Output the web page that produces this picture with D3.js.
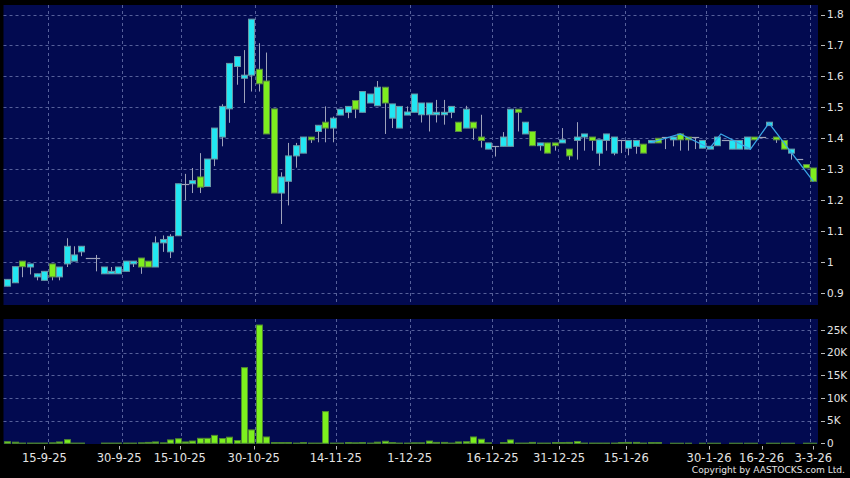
<!DOCTYPE html>
<html>
<head>
<meta charset="utf-8">
<script src="https://cdn.jsdelivr.net/npm/d3@7"></script>
<style>
  body { margin: 0; background: #000; }
  svg { display: block; }
  text { font-family: "DejaVu Sans", Verdana, sans-serif; fill: #e4e4e4; }
</style>
</head>
<body>
<div id="chart"></div>
<script>
// daily candles, one slot per traded day (index 0..109)
const opens  = [0.922,0.933,1.003,0.984,0.952,0.941,0.994,0.952,0.994,1.003,1.033,1.013,1.013,0.962,0.962,0.962,0.970,0.994,1.013,1.003,
                0.984,1.062,1.033,1.085,1.253,1.253,1.275,1.244,1.333,1.404,1.495,1.632,1.594,1.604,1.623,1.585,1.495,1.223,1.261,1.343,
                1.352,1.404,1.422,1.452,1.433,1.475,1.484,1.522,1.484,1.514,1.505,1.565,1.465,1.433,1.475,1.484,1.476,1.476,1.476,1.476,
                1.484,1.452,1.433,1.452,1.404,1.365,1.374,1.374,1.374,1.494,1.414,1.422,1.376,1.385,1.385,1.385,1.365,1.393,1.404,1.404,
                1.352,1.393,1.352,1.395,1.368,1.374,1.381,1.385,1.400,1.404,1.395,1.414,1.404,1.404,1.368,1.365,1.376,1.395,1.365,1.365,
                1.365,1.404,1.404,1.441,1.404,1.393,1.352,1.333,1.315,1.304];
const highs  = [0.944,0.985,1.003,0.994,0.962,0.970,0.994,0.984,1.077,1.051,1.051,1.013,1.023,0.984,0.984,0.984,1.003,1.003,1.013,1.003,
                1.083,1.086,1.090,1.253,1.285,1.304,1.352,1.333,1.433,1.510,1.642,1.664,1.685,1.785,1.707,1.677,1.495,1.290,1.385,1.385,
                1.404,1.404,1.442,1.503,1.470,1.494,1.503,1.522,1.551,1.543,1.585,1.565,1.511,1.503,1.503,1.543,1.514,1.514,1.524,1.524,
                1.503,1.452,1.505,1.452,1.476,1.385,1.374,1.420,1.494,1.494,1.452,1.422,1.385,1.385,1.385,1.433,1.365,1.452,1.414,1.404,
                1.395,1.414,1.404,1.395,1.393,1.393,1.381,1.393,1.400,1.404,1.404,1.414,1.404,1.404,1.393,1.374,1.404,1.395,1.393,1.393,
                1.404,1.404,1.404,1.452,1.404,1.393,1.365,1.333,1.315,1.304];
const lows   = [0.922,0.933,0.951,0.960,0.941,0.941,0.941,0.941,0.984,1.003,1.019,1.013,0.970,0.962,0.962,0.962,0.970,0.984,0.962,0.984,
                0.984,1.033,1.013,1.085,1.200,1.223,1.223,1.244,1.310,1.374,1.450,1.573,1.514,1.551,1.551,1.414,1.223,1.123,1.183,1.305,
                1.352,1.385,1.387,1.387,1.387,1.475,1.465,1.465,1.484,1.514,1.505,1.414,1.433,1.433,1.475,1.484,1.451,1.422,1.451,1.444,
                1.465,1.422,1.433,1.395,1.370,1.365,1.341,1.374,1.374,1.422,1.414,1.376,1.360,1.352,1.360,1.385,1.330,1.331,1.360,1.360,
                1.311,1.360,1.345,1.352,1.345,1.350,1.352,1.385,1.385,1.365,1.374,1.360,1.360,1.365,1.368,1.365,1.376,1.395,1.365,1.365,
                1.365,1.395,1.404,1.441,1.385,1.365,1.331,1.333,1.304,1.261];
const closes = [0.944,0.985,0.985,0.994,0.962,0.970,0.952,0.984,1.051,1.023,1.051,1.013,1.013,0.984,0.970,0.984,1.003,1.003,0.984,0.984,
                1.062,1.073,1.083,1.253,1.253,1.263,1.242,1.333,1.433,1.503,1.642,1.664,1.604,1.785,1.576,1.414,1.223,1.275,1.343,1.376,
                1.404,1.395,1.442,1.433,1.465,1.494,1.503,1.494,1.551,1.543,1.565,1.514,1.511,1.503,1.485,1.543,1.514,1.514,1.484,1.484,
                1.503,1.422,1.494,1.433,1.393,1.385,1.374,1.404,1.494,1.484,1.452,1.376,1.385,1.352,1.376,1.395,1.343,1.404,1.414,1.393,
                1.395,1.414,1.404,1.395,1.393,1.393,1.352,1.393,1.385,1.404,1.404,1.395,1.395,1.404,1.393,1.374,1.404,1.395,1.393,1.393,
                1.404,1.395,1.404,1.452,1.395,1.365,1.365,1.333,1.304,1.261];
// volume in thousands of shares
const volumes = [0.35,0.25,0.05,0.05,0.05,0.05,0.1,0.3,0.8,0.05,0.05,0,0,0.05,0.05,0.05,0.05,0.05,0.1,0.2,
                 0.3,0.1,0.75,1.0,0.3,0.5,1.1,1.1,1.75,1.05,1.35,0.6,16.7,2.95,26.1,1.4,0.15,0.15,0.15,0.05,
                 0.15,0.05,0.05,7.0,0.05,0.05,0.15,0.1,0.15,0.05,0.25,0.45,0.15,0.05,0.05,0.1,0.1,0.5,0.2,0.2,
                 0.05,0.3,0.35,1.4,0.9,0.1,0,0.15,0.75,0.05,0.05,0.2,0.05,0.05,0.15,0.15,0.2,0.4,0.05,0.05,
                 0.05,0.05,0.05,0.15,0.2,0.2,0.05,0.15,0.15,0,0.02,0.02,0.02,0,0.02,0.02,0.02,0,0.02,0.02,
                 0.02,0.02,0,0.02,0.02,0.02,0.02,0,0.02,0.02];
// thin price line over the latest weeks
const lineIdx = [87, 91, 95, 96.5, 100.5, 103, 109];
const lineVal = [1.386, 1.414, 1.368, 1.414, 1.365, 1.449, 1.261];

const gridIdx    = [5.5, 15.5, 23.5, 33.5, 44.5, 54.5, 65.5, 74.5, 83.5, 94.5, 101.5, 108.5];
const labelIdx   = [5, 15.1, 23.3, 33.3, 44.4, 54.4, 65.6, 74.6, 83.7, 94.9, 102, 109];
const dateLabels = ["15-9-25","30-9-25","15-10-25","30-10-25","14-11-25","1-12-25","16-12-25","31-12-25","15-1-26","30-1-26","16-2-26","3-3-26"];
const priceTicks = [0.9, 1.0, 1.1, 1.2, 1.3, 1.4, 1.5, 1.6, 1.7, 1.8];
const volTicks   = [0, 5, 10, 15, 20, 25];

const W = 850, H = 478;
const left = 3.5, right = 818;
const pTop = 5, pBot = 305;
const vTop = 319, vBot = 444;

const upFill = "#22e6f2", upStroke = "#6a98a6";
const dnFill = "#7eee1e", dnStroke = "#5b8a44";
const wickCol = "#9ea2ba";
const gridCol = "#56609a";

const n = opens.length;
const candles = d3.range(n).map(i => ({i, o: opens[i], h: highs[i], l: lows[i], c: closes[i], v: volumes[i]}));

const x = d3.scaleLinear().domain([-0.5, n - 0.5]).range([3.8, 817]);
const y = d3.scaleLinear().domain([0.9, 1.8]).range([293, 14.5]);
const yv = d3.scaleLinear().domain([0, 25]).range([443.3, 330]);
const bw = 6;

const svg = d3.select("#chart").append("svg")
    .attr("width", W).attr("height", H);

svg.append("rect").attr("width", W).attr("height", H).attr("fill", "#000");

// panels
svg.append("rect").attr("x", left).attr("y", pTop).attr("width", right - left).attr("height", pBot - pTop).attr("fill", "#020a50");
svg.append("rect").attr("x", left).attr("y", vTop).attr("width", right - left).attr("height", vBot - vTop).attr("fill", "#020a50");

// grid
const grid = svg.append("g").attr("stroke", gridCol).attr("stroke-dasharray", "3,3").attr("stroke-width", 1);
grid.selectAll(".hp").data(priceTicks).join("line")
    .attr("x1", left).attr("x2", right)
    .attr("y1", d => Math.round(y(d)) + 0.5).attr("y2", d => Math.round(y(d)) + 0.5);
grid.selectAll(".hv").data(volTicks.slice(1)).join("line")
    .attr("x1", left).attr("x2", right)
    .attr("y1", d => Math.round(yv(d)) + 0.5).attr("y2", d => Math.round(yv(d)) + 0.5);
grid.selectAll(".vp").data(gridIdx).join("line")
    .attr("x1", d => Math.round(x(d)) + 0.5).attr("x2", d => Math.round(x(d)) + 0.5)
    .attr("y1", pTop).attr("y2", pBot);
grid.selectAll(".vv").data(gridIdx).join("line")
    .attr("x1", d => Math.round(x(d)) + 0.5).attr("x2", d => Math.round(x(d)) + 0.5)
    .attr("y1", vTop).attr("y2", vBot);

// candles
const cg = svg.append("g");
const cx = d => Math.round(x(d.i)) + 0.5;

cg.selectAll(".wick").data(candles).join("line")
    .attr("x1", cx).attr("x2", cx)
    .attr("y1", d => y(d.h)).attr("y2", d => y(d.l))
    .attr("stroke", wickCol).attr("stroke-width", 1);

const bodies = candles.filter(d => d.o !== d.c);
cg.selectAll(".body").data(bodies).join("rect")
    .attr("x", d => cx(d) - bw / 2)
    .attr("width", bw)
    .attr("y", d => y(Math.max(d.o, d.c)))
    .attr("height", d => Math.max(1, y(Math.min(d.o, d.c)) - y(Math.max(d.o, d.c))))
    .attr("fill", d => d.c > d.o ? upFill : dnFill)
    .attr("stroke", d => d.c > d.o ? upStroke : dnStroke)
    .attr("stroke-width", 1);

// open == close
const dojis = candles.filter(d => d.o === d.c);
cg.selectAll(".doji").data(dojis).join("line")
    .attr("x1", d => cx(d) - 3.7).attr("x2", d => cx(d) + 3.7)
    .attr("y1", d => Math.round(y(d.c)) + 0.5).attr("y2", d => Math.round(y(d.c)) + 0.5)
    .attr("stroke", wickCol).attr("stroke-width", 1.2);

// price line
const linePts = lineIdx.map((d, k) => [d, lineVal[k]]);
svg.append("path")
    .datum(linePts)
    .attr("fill", "none")
    .attr("stroke", "#3aa8e8")
    .attr("stroke-width", 1.2)
    .attr("d", d3.line().x(d => x(d[0])).y(d => y(d[1])));

// volume bars
svg.append("g").selectAll("rect").data(candles.filter(d => d.v > 0)).join("rect")
    .attr("x", d => cx(d) - bw / 2)
    .attr("width", bw)
    .attr("y", d => yv(d.v))
    .attr("height", d => yv(0) - yv(d.v))
    .attr("fill", "#7cf01e")
    .attr("stroke", "#4f8a2e")
    .attr("stroke-width", 1);

// right axes
const axg = svg.append("g");
axg.selectAll(".pt").data(priceTicks).join("line")
    .attr("x1", 821).attr("x2", 825)
    .attr("y1", d => Math.round(y(d)) + 0.5).attr("y2", d => Math.round(y(d)) + 0.5)
    .attr("stroke", "#bbb");
axg.selectAll(".pl").data(priceTicks).join("text")
    .attr("x", 827).attr("y", d => y(d)).attr("dy", "0.36em")
    .attr("font-size", 10.5)
    .text(d => d3.format("~g")(d));

axg.selectAll(".vt").data(volTicks).join("line")
    .attr("x1", 821).attr("x2", 825)
    .attr("y1", d => Math.round(yv(d)) + 0.5).attr("y2", d => Math.round(yv(d)) + 0.5)
    .attr("stroke", "#bbb");
axg.selectAll(".vl").data(volTicks).join("text")
    .attr("x", 827).attr("y", d => yv(d)).attr("dy", "0.36em")
    .attr("font-size", 10.5)
    .text(d => d === 0 ? "0" : d + "K");

// date axis
axg.selectAll(".xt").data(labelIdx).join("line")
    .attr("x1", d => Math.round(x(d)) + 0.5).attr("x2", d => Math.round(x(d)) + 0.5)
    .attr("y1", 446).attr("y2", 449.5)
    .attr("stroke", "#bbb");
axg.selectAll(".xl").data(labelIdx).join("text")
    .attr("x", d => x(d)).attr("y", 461.5)
    .attr("text-anchor", "middle")
    .attr("font-size", 11.5)
    .text((d, k) => dateLabels[k]);

svg.append("text")
    .attr("x", 845).attr("y", 473)
    .attr("text-anchor", "end")
    .attr("font-size", 9.1)
    .text("Copyright by AASTOCKS.com Ltd.");
</script>
</body>
</html>
